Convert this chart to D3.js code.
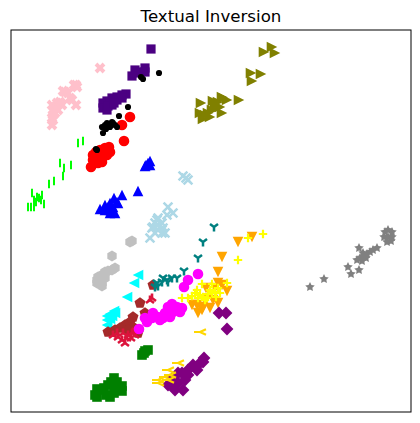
<!DOCTYPE html>
<html>
<head>
<meta charset="utf-8">
<script src="https://cdn.jsdelivr.net/npm/d3@7"></script>
<style>
  html, body { margin: 0; padding: 0; background: #fff; }
  svg { display: block; }
</style>
</head>
<body>
<svg width="420" height="423"></svg>
<script>
// one small list per concept, embedding positions
var indigo = [[140,19],[121,46],[124,40],[129,42],[134,38],[134,42],[126,43],[115,64],[111,65],[106,67],[101,68],[96,71],[92,73],[92,78],[96,80],[101,75],[106,70],[99,72],[111,68],[97,76],[103,73]];
var red = [[119,87],[111,95],[113,111],[80,137],[98,117],[99,122],[96,125],[92,127],[91,132],[87,133],[82,125],[82,130],[85,122],[89,120],[94,118],[87,127],[84,133]];
var black = [[148,43],[130,47],[132,49],[117,77],[108,86],[92,103],[85,119],[86,120],[94,95],[96,93],[101,92],[99,97],[104,95],[106,97],[95,99],[91,97],[102,93],[98,95]];
var pink = [[89,38],[65,55],[63,55],[66,57],[54,62],[57,63],[52,61],[59,68],[61,70],[65,75],[41,75],[46,73],[49,72],[51,75],[42,80],[47,80],[42,85],[41,88],[44,83],[41,95],[42,90]];
var lime = [[67,113],[72,111],[49,133],[60,135],[53,138],[52,146],[43,151],[38,154],[21,163],[31,165],[26,167],[28,168],[23,170],[25,172],[30,170],[33,174],[23,177],[20,177],[17,177]];
var blue = [[139,131],[135,135],[137,133],[134,136],[139,135],[127,161],[111,165],[103,168],[106,172],[99,173],[94,175],[89,179],[94,180],[99,180],[102,177],[107,173],[99,183],[104,183],[97,177]];
var lightblue = [[175,148],[172,146],[177,150],[157,177],[162,183],[156,185],[147,188],[144,193],[151,193],[141,198],[147,200],[147,195],[152,198],[144,203],[151,203],[146,190],[142,197],[154,203],[139,208]];
var silver = [[121,211],[119,212],[101,226],[104,238],[101,240],[97,241],[94,242],[91,245],[87,247],[86,250],[91,253],[86,253],[94,248],[89,250],[91,256]];
var cyan = [[127,245],[123,253],[116,267],[96,295],[96,286],[99,284],[103,281],[104,283],[99,289],[101,286],[96,290]];
var brown = [[142,255],[129,273],[134,283],[122,287],[119,292],[114,295],[109,298],[97,302],[102,302],[104,300],[126,300],[127,303],[122,297],[117,300]];
var crimson = [[139,270],[141,268],[107,307],[112,303],[117,305],[111,310],[116,308],[121,303],[122,302],[106,303],[102,305],[120,308],[124,305],[114,313]];
var teal = [[203,197],[192,212],[187,228],[173,241],[166,248],[161,248],[156,250],[151,252],[146,253],[144,257],[157,252],[152,248],[147,256]];
var magenta = [[187,244],[177,250],[173,257],[161,274],[166,277],[171,278],[169,282],[162,282],[157,277],[154,283],[159,287],[147,287],[149,290],[141,288],[136,292],[134,288],[142,283],[152,288],[128,299]];
var orange = [[241,207],[227,212],[211,227],[207,242],[207,253],[216,261],[195,258],[204,258],[211,255],[207,273],[199,278],[192,277],[187,283],[181,275],[186,275],[194,270],[202,270],[191,280]];
var yellow = [[252,204],[237,208],[227,230],[216,253],[191,254],[201,254],[207,258],[171,268],[181,266],[184,263],[177,268],[189,265],[192,267],[196,268],[201,263],[204,262],[209,263],[199,260],[194,270],[187,268],[186,260],[197,264],[205,267]];
var purple = [[208,283],[215,283],[216,299],[193,328],[189,333],[186,340],[177,340],[171,343],[167,343],[162,348],[157,355],[174,350],[167,353],[177,345],[162,355],[182,335],[192,332],[172,360],[164,360]];
var gold = [[189,302],[167,333],[157,340],[159,345],[157,350],[147,350],[147,353],[154,347]];
var green = [[131,325],[133,323],[134,321],[137,320],[103,348],[106,352],[100,352],[111,356],[111,361],[104,357],[97,355],[90,360],[86,359],[84,365],[86,367],[95,365],[99,367],[103,363],[93,358]];
var olive = [[253,22],[261,17],[264,23],[240,43],[250,44],[241,51],[228,70],[212,68],[216,70],[211,67],[207,72],[209,77],[204,75],[201,80],[211,83],[199,87],[194,85],[192,89],[189,83],[202,71],[190,73],[206,78],[197,83]];
var gray = [[299,257],[313,249],[340,244],[337,237],[348,240],[348,218],[346,230],[349,228],[352,227],[356,224],[359,222],[362,220],[366,218],[352,223],[351,231],[355,228],[374,202],[377,200],[381,202],[373,207],[377,207],[381,207],[376,212],[380,211]];

var svg = d3.select('svg');

var x = d3.scaleLinear().domain([0, 400]).range([11, 411]);
var y = d3.scaleLinear().domain([0, 382]).range([30, 412]);

function pathFromPoints(pts){
  return 'M' + pts.map(function(p){ return p.join(','); }).join('L') + 'Z';
}

function poly(n, r, rot){
  return pathFromPoints(d3.range(n).map(function(i){
    var a = rot + i * 2 * Math.PI / n;
    return [r * Math.cos(a), r * Math.sin(a)];
  }));
}

function starPath(outer, inner){
  return pathFromPoints(d3.range(10).map(function(i){
    var a = -Math.PI / 2 + i * Math.PI / 5;
    var r = i % 2 ? inner : outer;
    return [r * Math.cos(a), r * Math.sin(a)];
  }));
}

var t = 5.3;
var triUp = pathFromPoints([[0,-t],[t,t],[-t,t]]);
var triDown = pathFromPoints([[0,t],[t,-t],[-t,-t]]);
var triLeft = pathFromPoints([[-t,0],[t,t],[t,-t]]);
var triRight = pathFromPoints([[t,0],[-t,t],[-t,-t]]);
var xFill = 'M-2.6,-5.4L0,-2.8L2.6,-5.4L5.4,-2.6L2.8,0L5.4,2.6L2.6,5.4L0,2.8L-2.6,5.4L-5.4,2.6L-2.8,0L-5.4,-2.6Z';
var circleBig = d3.symbol().type(d3.symbolCircle).size(88)();

// color, stroke-only flag and marker shape per group, drawn back to front
var groups = [
  {data: indigo, color: '#4b0082', d: 'M-4.6,-4.6H4.6V4.6H-4.6Z'},
  {data: red, color: '#ff0000', d: circleBig},
  {data: black, color: '#000000', d: d3.symbol().type(d3.symbolCircle).size(30)()},
  {data: pink, color: '#ffc0cb', d: xFill},
  {data: lime, color: '#00ff00', d: 'M0,-4.2V4.2', line: 2},
  {data: blue, color: '#0000ff', d: triUp},
  {data: lightblue, color: '#add8e6', d: 'M-4.4,-4.4L4.4,4.4M-4.4,4.4L4.4,-4.4', line: 2.6},
  {data: silver, color: '#c0c0c0', d: poly(6, 5.4, Math.PI / 6)},
  {data: cyan, color: '#00ffff', d: triLeft},
  {data: brown, color: '#a52a2a', d: poly(5, 5.8, -Math.PI / 2)},
  {data: crimson, color: '#dc143c', d: 'M0,0V-4.5M0,0L-4,3M0,0L4,3', line: 2.6},
  {data: teal, color: '#008080', d: 'M0,0V4.5M0,0L-4,-3M0,0L4,-3', line: 2.5},
  {data: magenta, color: '#ff00ff', d: circleBig},
  {data: orange, color: '#ffa500', d: triDown},
  {data: yellow, color: '#ffff00', d: 'M-4.2,0H4.2M0,-4.2V4.2', line: 2.2},
  {data: purple, color: '#800080', d: poly(4, 6.4, 0)},
  {data: gold, color: '#ffd700', d: 'M-6,0H0M0,0L6,-2.8M0,0L6,2.8', line: 2.2},
  {data: green, color: '#008000', d: 'M-4.8,-4.8H4.8V4.8H-4.8Z'},
  {data: olive, color: '#808000', d: triRight},
  {data: gray, color: '#808080', d: starPath(5, 2.5)}
];

groups.forEach(function(g){
  svg.append('g').selectAll('path')
    .data(g.data)
    .enter()
    .append('path')
      .attr('d', g.d)
      .attr('transform', function(p){ return 'translate(' + x(p[0]) + ',' + y(p[1]) + ')'; })
      .attr('fill', g.line ? 'none' : g.color)
      .attr('stroke', g.line ? g.color : 'none')
      .attr('stroke-width', g.line || 0);
});

// frame
svg.append('rect')
  .attr('x', 11)
  .attr('y', 30)
  .attr('width', 400)
  .attr('height', 382)
  .attr('fill', 'none')
  .attr('stroke', '#000')
  .attr('stroke-width', 1);

svg.append('text')
  .attr('x', 211)
  .attr('y', 22)
  .attr('text-anchor', 'middle')
  .attr('font-family', 'DejaVu Sans')
  .attr('font-size', '16.67px')
  .text('Textual Inversion');
</script>
</body>
</html>
